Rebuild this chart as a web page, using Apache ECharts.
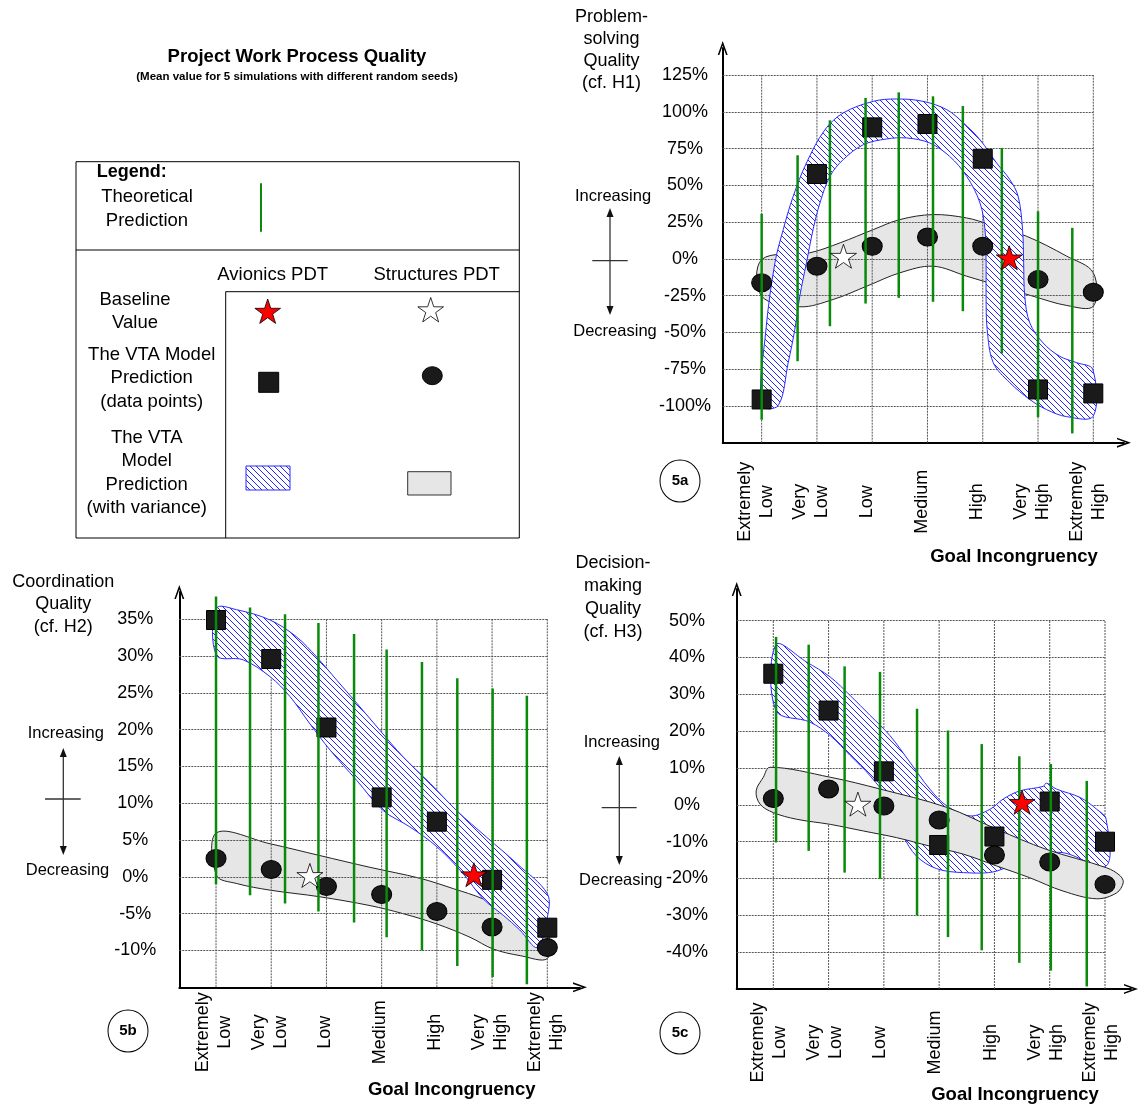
<!DOCTYPE html>
<html>
<head>
<meta charset="utf-8">
<title>Project Work Process Quality</title>
<script src="https://cdn.jsdelivr.net/npm/echarts@6/dist/echarts.min.js"></script>
<style>
html,body{margin:0;padding:0;background:#fff;}
#main{width:1139px;height:1107px;}
</style>
</head>
<body>
<div id="main"></div>
<script>
// categories (x positions 0..6)
var xLabels = ['Extremely\nLow', 'Very\nLow', 'Low', 'Medium', 'High', 'Very\nHigh', 'Extremely\nHigh'];
var catPos = [0, 1, 2, 3, 4, 5, 6];

// 5a problem-solving quality (%)
var aAvionics = [-95.6, 57.7, 89.4, 91.7, 68.1, -88.8, -91.5];
var aStructures = [-16.3, -5.0, 8.6, 14.9, 8.6, -14.1, -22.7];
var aAvBase = [4.48, 0.7];
var aStBase = [1.48, 1.8];
var aTheory = [[0, -109.4, 30.6], [0.65, -69.6, 70.4], [1.235, -45.8, 94.2], [1.88, -30.4, 109.4], [2.48, -26.5, 113.2],
  [3.10, -29.2, 110.5], [3.64, -35.6, 103.9], [4.345, -64.3, 75.4], [5.0, -107.6, 32.3], [5.62, -118.7, 21.1]];
var aAvBand = [[0, -99.7], [0.078, -48.0], [0.24, -2.7], [0.39, 19.9], [0.57, 42.5], [0.81, 65.2], [1.145, 87.8], [1.476, 99.2],
  [2.02, 107.1], [2.44, 108.7], [2.92, 107.1], [3.35, 101.4], [3.65, 92.4], [3.95, 81.0], [4.25, 65.2], [4.49, 53.9], [4.64, 42.5],
  [4.72, 19.9], [4.74, -2.7], [4.76, -25.4], [4.85, -43.5], [5.09, -57.1], [5.39, -66.2], [5.70, -70.6], [5.99, -75.2],
  [6.0, -106.9], [5.52, -107.3], [5.15, -102.4], [4.85, -95.6], [4.49, -84.2], [4.19, -70.6], [4.08, -48.0], [4.06, -25.4],
  [4.06, -2.7], [4.04, 19.9], [3.95, 38.0], [3.71, 56.1], [3.40, 69.7], [3.04, 78.8], [2.62, 82.2], [2.26, 81.5], [1.84, 77.6],
  [1.476, 67.5], [1.235, 56.1], [1.054, 38.0], [0.93, 19.9], [0.81, -2.7], [0.69, -25.4], [0.60, -48.0], [0.48, -70.6], [0.30, -99.7]];
var aStBand = [[0, -0.5], [0.87, 4.1], [1.42, 10.9], [2.02, 19.9], [2.50, 26.7], [3.10, 30.1], [3.71, 27.8], [4.13, 23.3],
  [4.79, 15.4], [5.52, 1.8], [6.0, -9.5], [6.0, -32.2], [5.52, -31.7], [4.91, -25.4], [4.31, -18.6], [3.71, -11.8], [3.10, -5.0],
  [2.50, -9.5], [1.90, -18.6], [1.295, -27.6], [0.69, -32.6], [0, -25.4]];

// 5b coordination quality (%)
var bAvionics = [34.9, 29.6, 20.3, 10.8, 7.5, -0.4, -6.9];
var bStructures = [2.5, 1.0, -1.3, -2.4, -4.7, -6.8, -9.6];
var bAvBase = [4.67, 0.3];
var bStBase = [1.70, 0.2];
var bTheory = [[0, -1.0, 38.1], [0.616, -2.5, 36.6], [1.25, -3.6, 35.7], [1.855, -4.7, 34.5], [2.5, -6.2, 33.0],
  [3.09, -8.2, 30.9], [3.73, -10.0, 29.2], [4.37, -12.1, 27.0], [5.01, -13.6, 25.6], [5.63, -14.6, 24.6]];
var bAvBand = [[0.01, 36.5], [0.375, 36.3], [0.98, 34.9], [1.46, 32.6], [1.82, 29.9], [2.19, 26.7], [2.55, 23.6], [2.97, 19.9],
  [3.39, 16.3], [3.88, 12.7], [4.36, 9.0], [4.90, 5.4], [5.45, 1.8], [6.0, -2.3], [6.0, -5.5], [5.82, -9.6], [5.5, -7.2],
  [5.2, -5.2], [4.84, -3.0], [4.48, 0.4], [4.0, 4.1], [3.51, 6.8], [3.03, 9.0], [2.55, 13.1], [2.07, 17.2], [1.70, 20.8],
  [1.34, 24.5], [0.98, 27.2], [0.49, 29.5], [0.01, 30.1]];
var bStBand = [[0.01, 6.0], [0.98, 4.5], [1.88, 2.9], [2.79, 1.3], [3.70, -0.2], [4.30, -1.6], [4.84, -3.0], [5.51, -5.5],
  [6.0, -7.7], [6.0, -11.1], [5.51, -10.7], [5.02, -9.8], [4.60, -8.2], [4.0, -6.4], [3.39, -5.0], [2.79, -3.9], [1.88, -2.7],
  [0.98, -1.8], [0.375, -0.9], [0.01, 0.2]];

// 5c decision-making quality (%)
var cAvionics = [35.6, 25.6, 9.1, -10.9, -8.6, 0.9, -10.0];
var cStructures = [1.7, 4.3, -0.3, -4.1, -13.6, -15.5, -21.6];
var cAvBase = [4.50, 0.7];
var cStBase = [1.53, 0.2];
var cTheory = [[0.05, -10.2, 45.6], [0.64, -12.5, 43.5], [1.29, -18.4, 37.6], [1.93, -20.1, 36.1], [2.6, -30.0, 26.1],
  [3.16, -35.9, 20.2], [3.77, -39.5, 16.5], [4.45, -42.9, 13.2], [5.02, -45.0, 11.1], [5.67, -49.3, 6.5]];
var cAvBand = [[0.05, 43.5], [0.60, 38.8], [1.03, 34.7], [1.39, 29.7], [1.75, 24.3], [2.11, 18.8], [2.47, 11.6], [2.83, 4.3],
  [3.14, -0.3], [3.56, -3.0], [3.92, -1.2], [4.16, 1.6], [4.46, 3.8], [4.88, 5.0], [4.94, 5.9], [5.12, 4.3], [5.55, 2.0],
  [5.85, -1.2], [6.02, -3.9], [6.02, -16.6], [5.24, -13.0], [4.64, -13.9], [4.04, -18.0], [3.44, -18.4], [2.95, -17.3],
  [2.59, -13.9], [2.35, -8.4], [2.11, 0.7], [1.75, 7.9], [1.39, 13.4], [1.03, 18.8], [0.66, 22.5], [0.05, 25.6]];
var cStBand = [[-0.06, 10.2], [1.03, 7.5], [1.93, 4.3], [3.14, -0.7], [4.04, -6.6], [4.94, -12.1], [6.03, -17.1], [6.27, -19.2],
  [6.33, -21.1], [6.21, -23.9], [5.85, -25.5], [5.24, -23.4], [4.64, -19.8], [4.04, -16.6], [3.44, -13.4], [2.83, -11.2],
  [2.23, -8.9], [1.63, -7.1], [1.03, -5.3], [0.42, -3.9], [0.0, -2.1], [-0.24, 0.2], [-0.31, 3.8], [-0.18, 7.5]];

var FONT = '"Liberation Sans", Arial, sans-serif';
var GREEN = '#0a8a0a';
var STAR = 'path://M50,0 L61.17,34.63 L97.55,34.55 L68.07,55.87 L79.39,90.45 L50,69 L20.61,90.45 L31.93,55.87 L2.45,34.55 L38.83,34.63 Z';
var ARROW = 'path://M0,14 L5,0 L10,14 L8.4,14 L5,4.6 L1.6,14 Z';

// blue diagonal hatch used by the avionics variance band
function makeHatch() {
  var c = document.createElement('canvas');
  c.width = 6; c.height = 6;
  var g = c.getContext('2d');
  g.fillStyle = '#fff';
  g.fillRect(0, 0, 6, 6);
  g.strokeStyle = '#2626f0';
  g.lineWidth = 1;
  g.beginPath();
  for (var k = -6; k <= 6; k += 6) { g.moveTo(k, 0); g.lineTo(k + 6, 6); }
  g.stroke();
  return c;
}
var HATCH = { image: makeHatch(), repeat: 'repeat' };

var panels = [
  { box: [722.7, 75, 370.6, 367.7], arrowBox: [722.7, 48, 401.3, 394.7], xMin: -0.705, yMin: -125, yMax: 125, yStep: 25,
    yMargin: 37.7, yPad: 8, xMargin: 59, xShift: -0.1,
    av: aAvionics, st: aStructures, avBase: aAvBase, stBase: aStBase, theory: aTheory, avBand: aAvBand, stBand: aStBand, stZ: 1 },
  { box: [179.3, 619.3, 368, 368], arrowBox: [179.3, 592, 400.7, 395.3], xMin: -0.665, yMin: -15, yMax: 35, yStep: 5,
    yMargin: 44, yPad: 0, xMargin: 45, xShift: -0.03,
    av: bAvionics, st: bStructures, avBase: bAvBase, stBase: bStBase, theory: bTheory, avBand: bAvBand, stBand: bStBand, stZ: 1 },
  { box: [736.7, 620.7, 368.3, 368.3], arrowBox: [736.7, 589, 394.3, 400], xMin: -0.662, yMin: -50, yMax: 50, yStep: 10,
    yMargin: 49.7, yPad: 6, xMargin: 53.5, xShift: -0.07,
    av: cAvionics, st: cStructures, avBase: cAvBase, stBase: cStBase, theory: cTheory, avBand: cAvBand, stBand: cStBand, stZ: 5 }
];

var grids = [], xAxes = [], yAxes = [], series = [];

function bandSeries(ai, pts, style, z) {
  return {
    type: 'custom', xAxisIndex: ai, yAxisIndex: ai, z: z, silent: true, data: [[0, 0]],
    renderItem: function (params, api) {
      return { type: 'polygon', shape: { points: pts.map(function (p) { return api.coord(p); }), smooth: 0.35 }, style: style };
    }
  };
}

panels.forEach(function (p, i) {
  var a = 2 * i, b = 2 * i + 1;
  grids.push({ left: p.box[0], top: p.box[1], width: p.box[2], height: p.box[3] });
  grids.push({ left: p.arrowBox[0], top: p.arrowBox[1], width: p.arrowBox[2], height: p.arrowBox[3] });

  xAxes.push({
    gridIndex: a, type: 'value', min: p.xMin, max: 6,
    axisLine: { show: false, onZero: false }, axisTick: { show: false }, splitLine: { show: false },
    axisLabel: {
      customValues: catPos.map(function (v) { return v + p.xShift; }),
      formatter: function (v) { return xLabels[Math.round(v)]; },
      showMinLabel: true, showMaxLabel: true, hideOverlap: false,
      rotate: 90, align: 'center', verticalAlign: 'middle', lineHeight: 22, fontSize: 18,
      fontFamily: FONT, color: '#000', margin: p.xMargin
    }
  });
  yAxes.push({
    gridIndex: a, type: 'value', min: p.yMin, max: p.yMax, interval: p.yStep, z: 3,
    axisLine: { show: false, onZero: false }, axisTick: { show: false },
    splitLine: { show: true, showMinLine: false, lineStyle: { color: '#555', width: 1, type: [2, 1] } },
    axisLabel: {
      formatter: '{value}%', showMinLabel: false, align: 'center', margin: p.yMargin,
      fontSize: 18, fontFamily: FONT, color: '#000', padding: [p.yPad, 0, 0, 0]
    }
  });
  // arrowed axes
  [xAxes, yAxes].forEach(function (list) {
    list.push({
      gridIndex: b, type: 'value', min: 0, max: 1,
      axisLine: { show: true, lineStyle: { color: '#000', width: 2 }, symbol: ['none', ARROW], symbolSize: [11, 14] },
      axisTick: { show: false }, axisLabel: { show: false }, splitLine: { show: false }
    });
  });

  // vertical grid lines at each category
  series.push({
    type: 'custom', xAxisIndex: a, yAxisIndex: a, z: 3, silent: true,
    data: catPos.map(function (v) { return [v]; }),
    renderItem: function (params, api) {
      var p1 = api.coord([api.value(0), p.yMin]), p2 = api.coord([api.value(0), p.yMax]);
      return { type: 'line', shape: { x1: p1[0], y1: p1[1], x2: p2[0], y2: p2[1] },
        style: { stroke: '#555', lineWidth: 1, lineDash: [2, 1] } };
    }
  });
  series.push(bandSeries(a, p.stBand, { fill: '#e6e6e6', stroke: '#222', lineWidth: 1 }, p.stZ));
  series.push(bandSeries(a, p.avBand, { fill: HATCH, stroke: '#2a2aff', lineWidth: 1 }, 4));
  series.push({
    type: 'scatter', xAxisIndex: a, yAxisIndex: a, z: 6, symbol: 'rect', symbolSize: 19,
    itemStyle: { color: '#1a1a1a', borderColor: '#000', borderWidth: 1, opacity: 1 },
    data: p.av.map(function (v, k) { return [catPos[k], v]; })
  });
  series.push({
    type: 'scatter', xAxisIndex: a, yAxisIndex: a, z: 6, symbol: 'circle', symbolSize: [20, 18],
    itemStyle: { color: '#1a1a1a', borderColor: '#000', borderWidth: 1, opacity: 1 },
    data: p.st.map(function (v, k) { return [catPos[k], v]; })
  });
  series.push({
    type: 'custom', xAxisIndex: a, yAxisIndex: a, z: 7, silent: true, data: p.theory, encode: { x: 0, y: [1, 2] },
    renderItem: function (params, api) {
      var x = api.value(0);
      var p1 = api.coord([x, api.value(1)]), p2 = api.coord([x, api.value(2)]);
      return { type: 'line', shape: { x1: p1[0], y1: p1[1], x2: p2[0], y2: p2[1] }, style: { stroke: GREEN, lineWidth: 2.5 } };
    }
  });
  series.push({
    type: 'scatter', xAxisIndex: a, yAxisIndex: a, z: 8, symbol: STAR, symbolSize: [26, 24],
    itemStyle: { color: '#ff0000', borderColor: '#000', borderWidth: 0.8, opacity: 1 }, data: [p.avBase]
  });
  series.push({
    type: 'scatter', xAxisIndex: a, yAxisIndex: a, z: 8, symbol: STAR, symbolSize: [26, 24],
    itemStyle: { color: '#fff', borderColor: '#000', borderWidth: 0.8, opacity: 1 }, data: [p.stBase]
  });
});

function txt(x, y, s, size, opts) {
  opts = opts || {};
  return {
    type: 'text', x: x, y: y, z: 20, silent: true,
    style: {
      text: s, font: (opts.bold ? 'bold ' : '') + size + 'px ' + FONT, fill: '#000',
      align: opts.align || 'center', verticalAlign: 'middle',
      textAlign: opts.align || 'center', textVerticalAlign: 'middle', lineHeight: opts.lh || 22.5
    }
  };
}
function starPts(cx, cy, R, r) {
  var pts = [];
  for (var k = 0; k < 10; k++) {
    var ang = -Math.PI / 2 + k * Math.PI / 5, rr = k % 2 ? r : R;
    pts.push([cx + rr * Math.cos(ang), cy + rr * Math.sin(ang)]);
  }
  return pts;
}
function upDown(x, yTop, yBot, xl, xr, yc, txInc, tyInc, txDec, tyDec) {
  var st = { stroke: '#333', lineWidth: 1.3 };
  return [
    { type: 'line', shape: { x1: x, y1: yTop + 4, x2: x, y2: yBot - 4 }, style: st },
    { type: 'line', shape: { x1: xl, y1: yc, x2: xr, y2: yc }, style: st },
    { type: 'polygon', shape: { points: [[x, yTop], [x - 3.5, yTop + 9], [x + 3.5, yTop + 9]] }, style: { fill: '#111' } },
    { type: 'polygon', shape: { points: [[x, yBot], [x - 3.5, yBot - 9], [x + 3.5, yBot - 9]] }, style: { fill: '#111' } },
    txt(txInc, tyInc, 'Increasing', 16.5),
    txt(txDec, tyDec, 'Decreasing', 16.5)
  ];
}
function panelTag(cx, cy, s) {
  return [
    { type: 'circle', shape: { cx: cx, cy: cy, r: 20 }, scaleY: 1.05, originX: cx, originY: cy,
      style: { fill: '#fff', stroke: '#000', lineWidth: 1 } },
    txt(cx, cy, s, 15, { bold: true })
  ];
}

var graphics = [
  txt(297, 57, 'Project Work Process Quality', 18.5, { bold: true }),
  txt(297, 77, '(Mean value for 5 simulations with different random seeds)', 11.5, { bold: true }),
  // legend box
  { type: 'rect', shape: { x: 76, y: 161.7, width: 443.3, height: 376.3 }, style: { fill: '#fff', stroke: '#000', lineWidth: 1 } },
  { type: 'line', shape: { x1: 76, y1: 250, x2: 519.3, y2: 250 }, style: { stroke: '#000', lineWidth: 1 } },
  { type: 'polyline', shape: { points: [[225.7, 538], [225.7, 291.7], [519.3, 291.7]] }, style: { fill: null, stroke: '#000', lineWidth: 1 } },
  txt(96.7, 172, 'Legend:', 18, { bold: true, align: 'left' }),
  txt(147, 209, 'Theoretical\nPrediction', 18.5, { lh: 23.4 }),
  { type: 'line', shape: { x1: 261, y1: 183.3, x2: 261, y2: 231.7 }, style: { stroke: GREEN, lineWidth: 2 } },
  txt(272.7, 275, 'Avionics PDT', 18.5),
  txt(436.7, 275, 'Structures PDT', 18.5),
  txt(135, 311.7, 'Baseline\nValue', 18.5, { lh: 23.4 }),
  txt(151.7, 378.3, 'The VTA Model\nPrediction\n(data points)', 18.5, { lh: 23.4 }),
  txt(146.7, 473, 'The VTA\nModel\nPrediction\n(with variance)', 18.5, { lh: 23.2 }),
  { type: 'polygon', shape: { points: starPts(267.7, 312.5, 13.5, 5.2) }, style: { fill: '#ff0000', stroke: '#000', lineWidth: 0.8 } },
  { type: 'polygon', shape: { points: starPts(430.7, 311, 13.5, 5.2) }, style: { fill: '#fff', stroke: '#000', lineWidth: 0.8 } },
  { type: 'rect', shape: { x: 258.7, y: 372.3, width: 20, height: 20 }, style: { fill: '#1a1a1a', stroke: '#000' } },
  { type: 'circle', shape: { cx: 432.3, cy: 375.7, r: 10 }, scaleY: 0.9, originX: 432.3, originY: 375.7, style: { fill: '#1a1a1a', stroke: '#000' } },
  { type: 'rect', shape: { x: 246, y: 466, width: 44, height: 24 }, style: { fill: HATCH, stroke: '#2a2aff', lineWidth: 1 } },
  { type: 'rect', shape: { x: 407.7, y: 471.7, width: 43.3, height: 23.3 }, style: { fill: '#e6e6e6', stroke: '#333', lineWidth: 1 } },
  // axis titles
  txt(611.5, 50, 'Problem-\nsolving\nQuality\n(cf. H1)', 18, { lh: 22.2 }),
  txt(63.3, 604.5, 'Coordination\nQuality\n(cf. H2)', 18, { lh: 22.2 }),
  txt(613, 597.5, 'Decision-\nmaking\nQuality\n(cf. H3)', 18, { lh: 22.8 }),
  txt(1014, 556.7, 'Goal Incongruency', 18.5, { bold: true }),
  txt(451.7, 1090, 'Goal Incongruency', 18.5, { bold: true }),
  txt(1015, 1095, 'Goal Incongruency', 18.5, { bold: true })
]
  .concat(upDown(610, 208, 315, 592.3, 627.7, 260.7, 613, 196, 615, 331.7))
  .concat(upDown(63.3, 748, 855, 45, 80.7, 799, 65.8, 733.3, 67.5, 870))
  .concat(upDown(619.3, 756, 865, 601.7, 636.7, 807.7, 621.8, 742.7, 620.8, 880))
  .concat(panelTag(680, 481, '5a'))
  .concat(panelTag(128, 1031, '5b'))
  .concat(panelTag(680, 1033, '5c'));

var chart = echarts.init(document.getElementById('main'), null, { renderer: 'canvas' });
chart.setOption({
  backgroundColor: '#fff',
  animation: false,
  textStyle: { fontFamily: FONT },
  grid: grids,
  xAxis: xAxes,
  yAxis: yAxes,
  series: series,
  graphic: { elements: graphics }
});
</script>
</body>
</html>
